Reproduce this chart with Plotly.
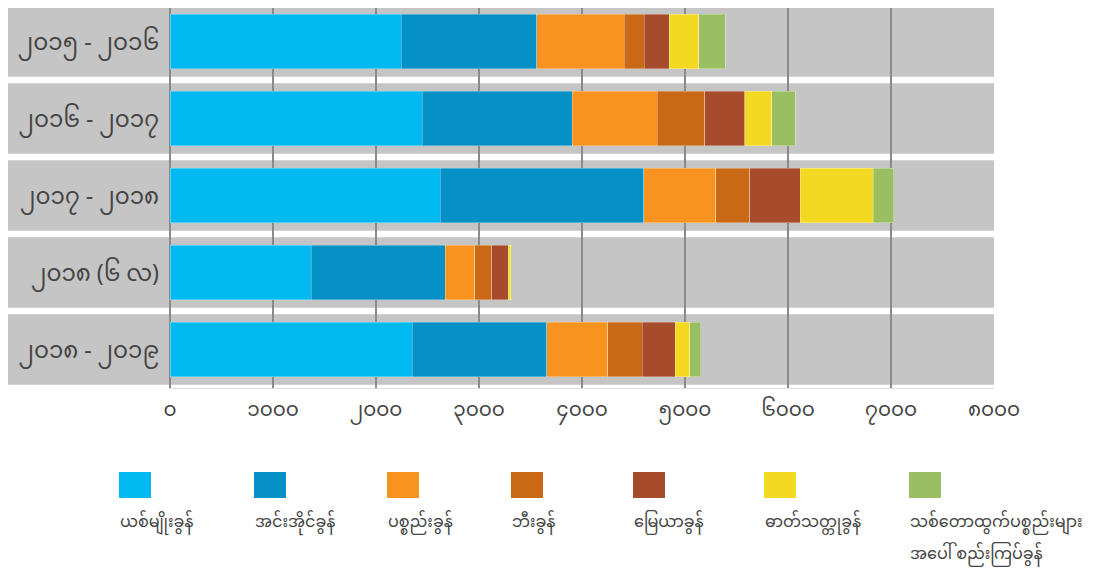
import plotly.graph_objects as go

categories = ["၂၀၁၅ - ၂၀၁၆", "၂၀၁၆ - ၂၀၁၇", "၂၀၁၇ - ၂၀၁၈", "၂၀၁၈ (၆ လ)", "၂၀၁၈ - ၂၀၁၉"]
series_names = ["ယစ်မျိုးခွန်", "အင်းအိုင်ခွန်", "ပစ္စည်းခွန်", "ဘီးခွန်", "မြေယာခွန်",
                "ဓာတ်သတ္တုခွန်", "သစ်တောထွက်ပစ္စည်းများ<br>အပေါ် စည်းကြပ်ခွန်"]
v_excise = [2243, 2451, 2625, 1373, 2350]
v_fishery = [1320, 1456, 1973, 1297, 1308]
v_property = [845, 825, 700, 291, 593]
v_wheel = [194, 461, 333, 163, 336]
v_land = [243, 388, 489, 159, 319]
v_mineral = [287, 262, 707, 27, 142]
v_forest = [260, 227, 202, 8, 104]
series_values = [v_excise, v_fishery, v_property, v_wheel, v_land, v_mineral, v_forest]
tick_vals = [0, 1000, 2000, 3000, 4000, 5000, 6000, 7000, 8000]
tick_text = ["၀", "၁၀၀၀", "၂၀၀၀", "၃၀၀၀", "၄၀၀၀", "၅၀၀၀", "၆၀၀၀", "၇၀၀၀", "၈၀၀၀"]

colors = ["#00B9F1", "#0590C6", "#F7931E", "#C96915", "#A64B2B", "#F4D923", "#99BF62"]
legend_x = [111, 246, 379, 503, 625, 756, 901]

FONT = "Noto Sans Myanmar, Padauk, Myanmar Text, Noto Sans, DejaVu Sans, sans-serif"
W, H = 1100, 567
ML, MR, MT, MB = 162, 114, 0, 187
PW = W - ML - MR
PH = H - MT - MB


def py(pix):
    return (H - MB - pix) / PH


def px(pix):
    return (pix - ML) / PW


fig = go.Figure()
for name, vals, col in zip(series_names, series_values, colors):
    fig.add_trace(go.Bar(
        y=categories, x=vals, name=name, orientation="h",
        marker=dict(color=col, line=dict(color="rgba(255,255,255,0.5)", width=0.6)),
        showlegend=False, hoverinfo="x+name",
    ))

shapes = []
for i, _ in enumerate(categories):
    shapes.append(dict(type="rect", xref="paper", yref="y",
                       x0=px(-3), x1=1, y0=i - 0.459, y1=i + 0.459,
                       fillcolor="#C5C5C5", line=dict(width=0), layer="below"))

annotations = []
for name, col, lx in zip(series_names, colors, legend_x):
    shapes.append(dict(type="rect", xref="paper", yref="paper",
                       x0=px(lx), x1=px(lx + 32), y0=py(464), y1=py(490),
                       fillcolor=col, line=dict(width=0)))
    for k, line in enumerate(name.split("<br>")):
        annotations.append(dict(xref="paper", yref="paper", x=px(lx - 1), y=py(515 + 32 * k),
                                xanchor="left", yanchor="middle", align="left",
                                text=line, showarrow=False,
                                font=dict(family=FONT, size=16, color="#444444")))

fig.update_layout(
    width=W, height=H,
    margin=dict(l=ML, r=MR, t=MT, b=MB, autoexpand=False),
    paper_bgcolor="white", plot_bgcolor="white",
    barmode="stack", bargap=0.286,
    shapes=shapes, annotations=annotations,
    font=dict(family=FONT, color="#444444"),
)
fig.update_xaxes(range=[0, 8000], tickvals=tick_vals, ticktext=tick_text,
                 showgrid=True, gridcolor="#8A8A8A", gridwidth=1.5,
                 zeroline=True, zerolinecolor="#8A8A8A", zerolinewidth=1.5,
                 showline=True, linecolor="#DDDDDD", linewidth=1,
                 tickfont=dict(family=FONT, size=20, color="#444444"), ticks="",
                 ticklabelstandoff=3)
fig.update_yaxes(range=[4.5, -0.5 + 5 / 77], showgrid=False, zeroline=False,
                 tickfont=dict(family=FONT, size=23, color="#444444"), ticks="",
                 ticklabelstandoff=10)

fig.write_html("out.html")
